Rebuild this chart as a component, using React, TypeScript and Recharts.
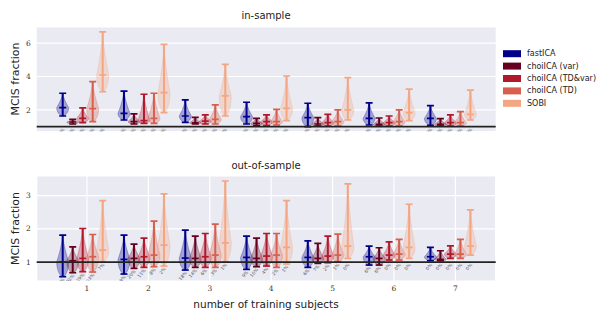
import React from 'react';
import { ComposedChart, Bar, XAxis, YAxis, CartesianGrid, ReferenceLine } from 'recharts';

const groups = [1, 2, 3, 4, 5, 6, 7];
const methods = ['fastICA', 'choiICA (var)', 'choiICA (TD&var)', 'choiICA (TD)', 'SOBI'];
const colors = ['#00008b', '#67001f', '#b2182b', '#d6604d', '#f4a582'];

// in-sample: one row per method, one value per number of training subjects
const inMin = [
  [1.64, 1.4, 1.26, 1.16, 1.0, 1.1, 1.08],
  [1.16, 1.16, 1.16, 1.06, 1.04, 1.04, 1.04],
  [1.24, 1.2, 1.16, 1.06, 1.04, 1.04, 1.04],
  [1.3, 1.2, 1.16, 1.1, 1.04, 1.04, 1.04],
  [3.09, 1.84, 1.64, 1.36, 1.4, 1.36, 1.4],
];
const inMax = [
  [3.0, 3.13, 2.6, 2.46, 2.4, 2.42, 2.26],
  [1.44, 1.76, 1.56, 1.5, 1.54, 1.52, 1.48],
  [2.12, 2.94, 1.7, 1.7, 1.74, 1.64, 1.7],
  [3.69, 3.0, 2.3, 2.04, 2.0, 2.0, 1.9],
  [6.67, 5.92, 4.73, 4.03, 3.93, 3.24, 3.19],
];
const inMed = [
  [2.14, 1.8, 1.64, 1.6, 1.54, 1.5, 1.5],
  [1.28, 1.3, 1.23, 1.2, 1.16, 1.14, 1.14],
  [1.5, 1.36, 1.33, 1.3, 1.24, 1.24, 1.24],
  [2.08, 1.5, 1.44, 1.3, 1.3, 1.3, 1.24],
  [4.09, 3.04, 2.84, 2.1, 2.0, 1.84, 1.74],
];
const inPct = [
  [0, 0, 0, 0, 0, 0, 0],
  [0, 0, 0, 0, 0, 0, 0],
  [0, 0, 0, 0, 0, 0, 0],
  [0, 0, 0, 0, 0, 0, 0],
  [0, 0, 0, 0, 0, 0, 0],
];

// out-of-sample
const outMin = [
  [0.56, 0.64, 0.76, 0.78, 0.84, 0.91, 1.04],
  [0.68, 0.81, 0.84, 0.86, 0.96, 0.91, 1.04],
  [0.71, 0.84, 0.84, 0.88, 0.98, 1.06, 1.11],
  [0.7, 0.86, 0.84, 0.84, 1.01, 1.06, 1.11],
  [1.01, 0.88, 1.01, 0.94, 1.11, 1.11, 1.21],
];
const outMax = [
  [1.81, 1.81, 1.96, 1.78, 1.64, 1.48, 1.44],
  [1.46, 1.54, 1.78, 1.72, 1.56, 1.43, 1.34],
  [2.01, 1.72, 1.86, 1.86, 1.78, 1.61, 1.49],
  [1.83, 2.23, 2.14, 1.86, 1.84, 1.68, 1.68],
  [2.85, 3.05, 3.44, 2.85, 3.35, 2.74, 2.57],
];
const outMed = [
  [1.0, 1.08, 1.12, 1.14, 1.14, 1.16, 1.16],
  [1.04, 1.11, 1.11, 1.11, 1.11, 1.11, 1.08],
  [1.11, 1.16, 1.16, 1.18, 1.18, 1.21, 1.24],
  [1.16, 1.21, 1.21, 1.21, 1.21, 1.24, 1.24],
  [1.36, 1.51, 1.58, 1.44, 1.48, 1.44, 1.48],
];
const outPct = [
  [57, 29, 18, 9, 6, 6, 0],
  [32, 20, 14, 10, 7, 6, 0],
  [29, 11, 6, 4, 2, 0, 0],
  [23, 8, 3, 2, 1, 0, 0],
  [7, 2, 1, 1, 0, 0, 0],
];

const inTicks = [2, 4, 6];
const outTicks = [1, 2, 3];

const SANS = '"DejaVu Sans", sans-serif';
const SERIF = '"DejaVu Serif", serif';

// draws one violin inside the band that Recharts gives a [min, max] range bar
const violinShape = (mi: number) => (props: any) => {
  const { x, y, width, height, payload } = props;
  const lo = payload.lo[mi];
  const hi = payload.hi[mi];
  const med = payload.med[mi];
  const pct = payload.pct[mi];
  const top = Math.min(y, y + height);
  const bot = Math.max(y, y + height);
  const yOf = (v: number) => (hi === lo ? top : top + ((hi - v) / (hi - lo)) * (bot - top));
  const cx = x + width / 2;
  const hw = width * 0.6;
  const color = colors[mi];

  const n = 30;
  const left: string[] = [];
  const right: string[] = [];
  for (let k = 0; k <= n; k++) {
    const v = lo + ((hi - lo) * k) / n;
    let w;
    if (v <= med) {
      const u = med > lo ? (med - v) / (med - lo) : 0;
      w = hw * Math.pow(Math.max(0, 1 - u * u), 0.6);
    } else {
      const u = (v - med) / (hi - med);
      w = hw * (1 - u * u) * Math.exp(-1.4 * u);
    }
    w = Math.max(w, 0.6);
    left.push(`${cx - w},${yOf(v)}`);
    right.unshift(`${cx + w},${yOf(v)}`);
  }
  const path = `M${left.join(' L')} L${right.join(' L')} Z`;
  const cap = 3.5;
  const ly = yOf(Math.min(lo, 1)) + 3;

  return (
    <g>
      <path d={path} fill={color} fillOpacity={0.3} stroke={color} strokeOpacity={0.35} strokeWidth={0.8} />
      <line x1={cx} x2={cx} y1={yOf(lo)} y2={yOf(hi)} stroke={color} strokeWidth={2} />
      {[lo, hi, med].map((v, i) => (
        <line key={i} x1={cx - cap} x2={cx + cap} y1={yOf(v)} y2={yOf(v)} stroke={color} strokeWidth={1.7} />
      ))}
      <text
        x={cx + 2}
        y={ly}
        transform={`rotate(-50, ${cx + 2}, ${ly})`}
        textAnchor="end"
        fontSize={4.5}
        fontFamily={SANS}
        fill="#555"
      >
        {`${pct}%`}
      </text>
    </g>
  );
};

interface PanelProps {
  lo: number[][];
  hi: number[][];
  med: number[][];
  pct: number[][];
  domain: [number, number];
  yTicks: number[];
  top: number;
  height: number;
  plotTop: number;
  plotBottom: number;
  showX: boolean;
}

const Panel: React.FC<PanelProps> = ({ lo, hi, med, pct, domain, yTicks, top, height, plotTop, plotBottom, showX }) => {
  const rows = groups.map((g, gi) => ({
    pos: g,
    lo: methods.map((_, mi) => lo[mi][gi]),
    hi: methods.map((_, mi) => hi[mi][gi]),
    med: methods.map((_, mi) => med[mi][gi]),
    pct: methods.map((_, mi) => pct[mi][gi]),
  }));
  const xAxisH = showX ? 20 : 0;

  return (
    <div style={{ position: 'absolute', left: 0, top, width: 609, height }}>
      <ComposedChart
        width={609}
        height={height}
        data={rows}
        barGap={0}
        margin={{ top: plotTop - top, right: 113.3, bottom: top + height - plotBottom - xAxisH, left: 6.7 }}
      >
        <CartesianGrid
          fill="#eaeaf2"
          stroke="#ffffff"
          strokeWidth={1.2}
          vertical={showX}
          xAxisId={showX ? 'num' : 0}
        />
        {showX && (
          <XAxis
            xAxisId="num"
            dataKey="pos"
            type="number"
            domain={[0.181, 7.657]}
            allowDataOverflow
            ticks={groups}
            height={20}
            tickLine={false}
            axisLine={false}
            tickSize={2}
            tickMargin={3}
            tick={{ fontSize: 7.5, fill: '#333', fontFamily: SERIF }}
          />
        )}
        <XAxis xAxisId={0} dataKey="pos" type="category" hide height={0} padding={{ left: 15, right: 15 }} />
        <YAxis
          type="number"
          domain={domain}
          allowDataOverflow
          ticks={yTicks}
          width={30}
          tickLine={false}
          axisLine={false}
          tickSize={4}
          tick={{ fontSize: 7.5, fill: '#333', fontFamily: SERIF }}
        />
        {methods.map((m, mi) => (
          <Bar
            key={m}
            name={m}
            dataKey={(r: any) => [r.lo[mi], r.hi[mi]]}
            barSize={10}
            shape={violinShape(mi)}
            isAnimationActive={false}
          />
        ))}
        <ReferenceLine y={1} stroke="#222" strokeWidth={1.8} />
      </ComposedChart>
    </div>
  );
};

const App: React.FC = () => {
  return (
    <div style={{ position: 'absolute', left: 0, top: 0, width: 609, height: 320, background: '#fff' }}>
      <Panel
        lo={inMin}
        hi={inMax}
        med={inMed}
        pct={inPct}
        domain={[0.7, 6.96]}
        yTicks={inTicks}
        top={0}
        height={145}
        plotTop={27}
        plotBottom={131.7}
        showX={false}
      />
      <Panel
        lo={outMin}
        hi={outMax}
        med={outMed}
        pct={outPct}
        domain={[0.43, 3.59]}
        yTicks={outTicks}
        top={145}
        height={175}
        plotTop={176}
        plotBottom={281}
        showX
      />
      <svg width={609} height={320} style={{ position: 'absolute', left: 0, top: 0, pointerEvents: 'none' }}>
        <g fontFamily={SANS} fill="#222">
          <text x={266} y={15} fontSize={10} textAnchor="middle" dominantBaseline="central">in-sample</text>
          <text x={266} y={165} fontSize={10} textAnchor="middle" dominantBaseline="central">out-of-sample</text>
          <text x={15} y={79} fontSize={11} textAnchor="middle" dominantBaseline="central" transform="rotate(-90, 15, 79)">
            MCIS fraction
          </text>
          <text x={15} y={228.5} fontSize={11} textAnchor="middle" dominantBaseline="central" transform="rotate(-90, 15, 228.5)">
            MCIS fraction
          </text>
          <text x={266} y={304} fontSize={10.5} textAnchor="middle" dominantBaseline="central">number of training subjects</text>
        </g>
        <g fontFamily={SANS} fontSize={8} fill="#222">
          {methods.map((m, mi) => (
            <g key={m}>
              <rect x={503} y={50.2 + mi * 12.4} width={18} height={7} fill={colors[mi]} />
              <text x={527} y={53.7 + mi * 12.4} dominantBaseline="central">{m}</text>
            </g>
          ))}
        </g>
      </svg>
    </div>
  );
};

export default App;
